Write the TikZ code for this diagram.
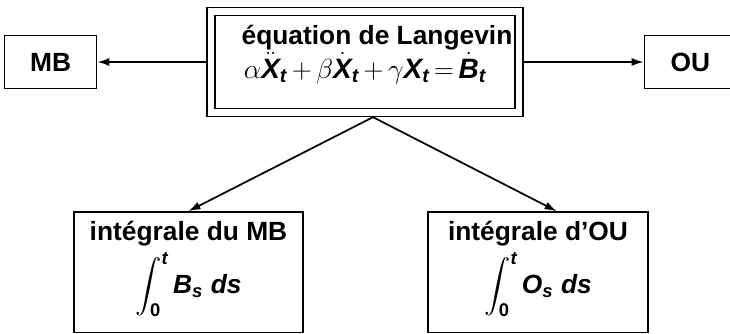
\documentclass[tikz,border=0pt]{standalone}
\usepackage{amsmath,amssymb}
\usepackage{fontspec}
\setmainfont{Liberation Sans}
\usepackage{tikz}
\usetikzlibrary{positioning}
\usetikzlibrary{shapes,arrows,calc,arrows.meta}
\newcommand{\bi}[1]{\text{\bfseries\itshape #1}}
\newcommand{\bu}[1]{\text{\bfseries #1}}
\newcommand{\op}[1]{\mkern3mu{#1}\mkern3mu}
\tikzset{
	auto,node distance = 1.5cm and 1.5cm,
	semithick,
	box/.style = {rectangle, draw, line width=1pt, align=center, inner sep=2pt,
		font=\fontsize{19.75}{24}\selectfont\bfseries},
	dbox/.style = {box, double, double distance=5pt, outer sep=3.5pt},
	intbox/.style = {box, inner ysep=7pt},
	arr/.style = {->, >={Latex[length=9pt,width=6pt]}, line width=1.3pt},
}

\begin{document}
\begin{tikzpicture}
	\useasboundingbox (-273.75pt,-203.25pt) rectangle (273.75pt,46.5pt);
	\node (lang) [dbox, minimum width=231pt, minimum height=75.75pt]
		{\hspace*{18pt}équation de Langevin\\[1pt]
		\fontsize{21}{24}\selectfont
		$\alpha\ddot{\bi{X}}_{\bi{t}}\op{+}\beta\dot{\bi{X}}_{\bi{t}}\op{+}\gamma\bi{X}_{\bi{t}}\op{=}\dot{\bi{B}}_{\bi{t}}$\rule[-15pt]{0pt}{15pt}};
	\node (mb) [box, left = 81.75pt of lang, minimum width=69pt, minimum height=39.75pt] {MB};
	\node (ou) [box, right = 90pt of lang, minimum width=69pt, minimum height=39.75pt] {OU};
	\node (intmb) [intbox, below = 70.5pt of lang, xshift=-132.4pt, minimum width=171.75pt]
		{intégrale du MB\\[4pt] $\displaystyle\int_{\bu{0}}^{\bi{t}} \bi{B}_{\bi{s}}\;\bi{ds}$\rule[-22pt]{0pt}{22pt}};
	\node (intou) [intbox, below = 70.5pt of lang, xshift=129.75pt, minimum width=165pt]
		{intégrale d’OU\\[4pt] $\displaystyle\int_{\bu{0}}^{\bi{t}} \bi{O}_{\bi{s}}\;\bi{ds}$\rule[-22pt]{0pt}{22pt}};
	\coordinate (lang-s) at ([xshift=6pt]lang.south);
	\coordinate (ou-n) at ([xshift=14pt]intou.north);
	\draw[arr] (lang) -- (mb);
	\draw[arr] (lang) -- (ou);
	\draw[arr] (lang-s) -- (intmb.north);
	\draw[arr] (lang-s) -- (ou-n);
\end{tikzpicture}
\end{document}
